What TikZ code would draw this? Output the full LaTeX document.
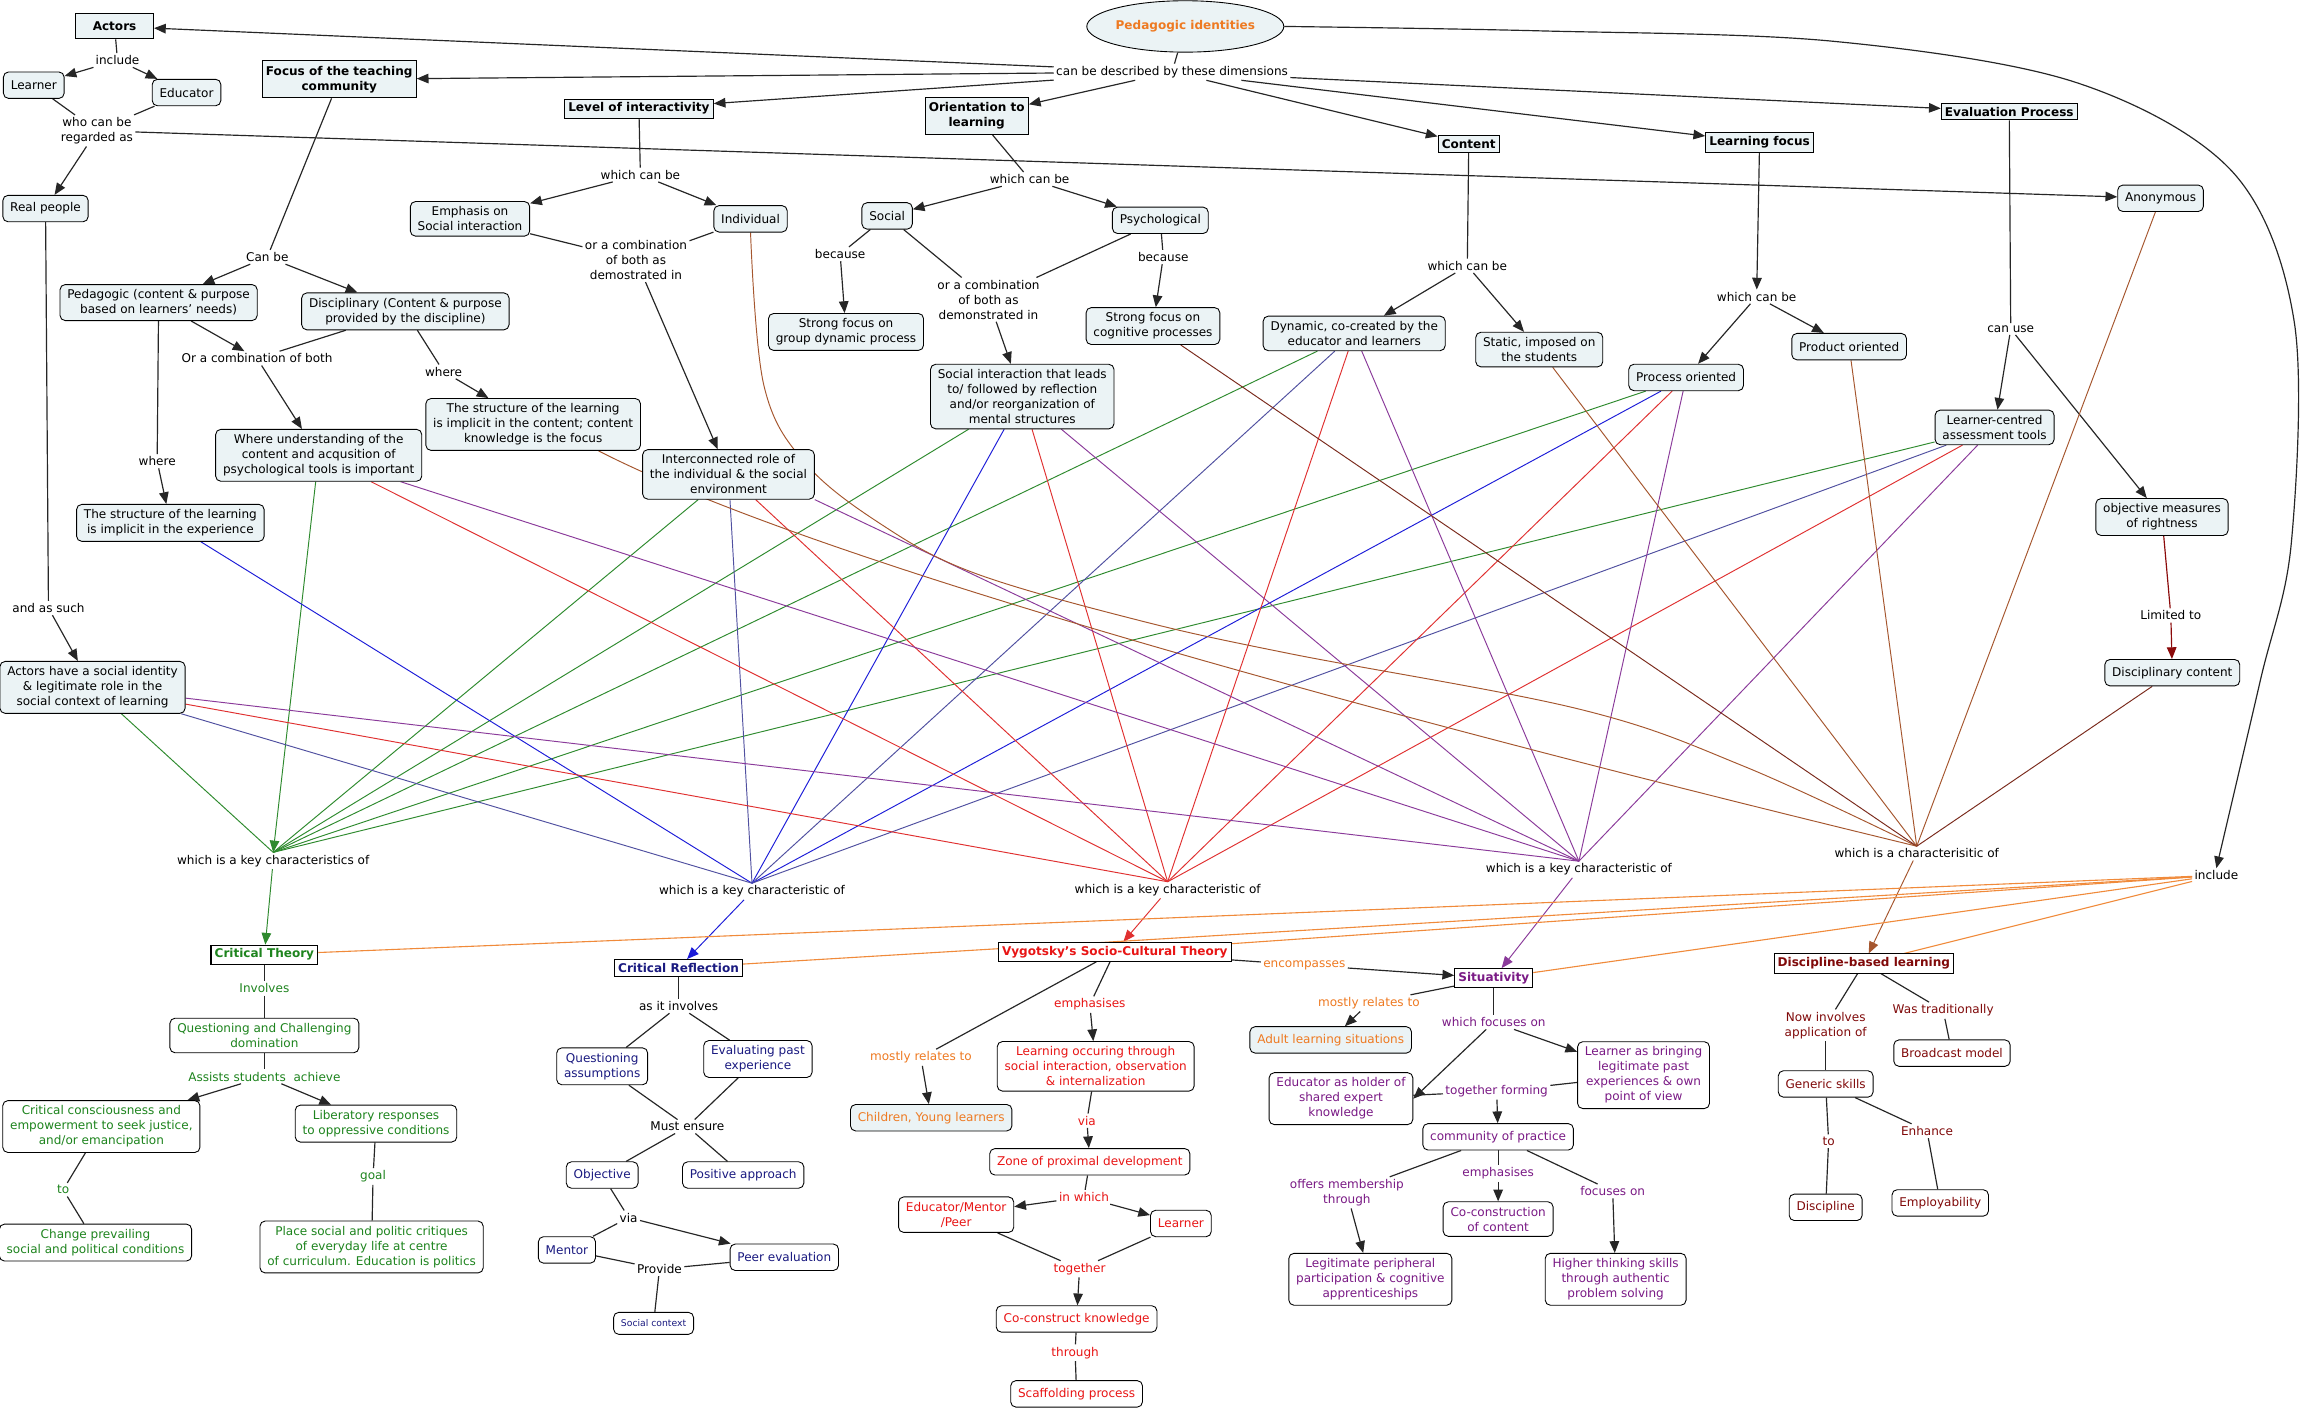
\documentclass[tikz,border=0pt]{standalone}
\usepackage{fontspec}
\setmainfont{DejaVu Sans}
\usetikzlibrary{arrows.meta,shapes.geometric,backgrounds}
\pgfdeclarelayer{bgzero}
\pgfsetlayers{bgzero,background,main}
\definecolor{nfill}{HTML}{EBF3F5}
\definecolor{tgrn}{HTML}{1E841E}
\definecolor{tnav}{HTML}{1A1A80}
\definecolor{tred}{HTML}{E81515}
\definecolor{tpur}{HTML}{7A1A85}
\definecolor{tora}{HTML}{EE7A22}
\definecolor{tdrd}{HTML}{800A0A}
\definecolor{lgrn}{HTML}{2E8A2E}
\definecolor{lblu}{HTML}{1C1CD8}
\definecolor{lsla}{HTML}{5050A0}
\definecolor{lred}{HTML}{E03030}
\definecolor{lpur}{HTML}{8A3A9A}
\definecolor{lbrn}{HTML}{A5562E}
\definecolor{ldbr}{HTML}{7A2A1C}
\definecolor{lora}{HTML}{F08A3A}
\definecolor{ldred}{HTML}{8B0A0A}
\newcommand{\myfs}{\fontsize{8.2}{10.2}\selectfont}
\begin{document}
\begin{tikzpicture}[x=1pt,y=-1pt,
  every node/.style={font=\myfs, align=center},
  lk/.style={inner sep=1.5pt},
  cb/.style={draw, rounded corners=3.5pt, fill=nfill, inner xsep=5pt, inner ysep=3.5pt, minimum height=18pt, line width=0.6pt},
  wb/.style={cb, fill=white},
  tb/.style={draw, fill=nfill, font=\myfs\bfseries, inner xsep=2.5pt, inner ysep=2.5pt, line width=0.7pt},
  bt/.style={tb, fill=white},
  ln/.style={line width=0.8pt, draw=black!85},
  tip/.style={-{Triangle[length=8pt,width=6.5pt]}},
  ar/.style={ln, tip},
  cg/.style={line width=0.65pt, draw=lgrn},
  cbl/.style={line width=0.65pt, draw=lblu},
  csl/.style={line width=0.65pt, draw=lsla},
  crd/.style={line width=0.65pt, draw=lred},
  cpu/.style={line width=0.65pt, draw=lpur},
  cbr/.style={line width=0.65pt, draw=lbrn},
  cdb/.style={line width=0.65pt, draw=ldbr},
  cor/.style={line width=0.75pt, draw=lora}
]
\begin{pgfonlayer}{bgzero}
\fill[white] (0,0) rectangle (1568,961);
\end{pgfonlayer}
\useasboundingbox (0,0) rectangle (1568,961);

% ---------- top part ----------
\node[ellipse, draw, fill=nfill, minimum width=109pt, minimum height=35pt, inner sep=0pt, font=\myfs\bfseries, text=tora, line width=0.6pt] (PI) at (807,18) {Pedagogic identities};
\node[lk] (desc) at (798,49) {can be described by these dimensions};
\node[tb, minimum width=53pt, minimum height=17pt] (actors) at (78,18) {Actors};
\node[lk] (inc1) at (80,41) {include};
\node[cb] (learner1) at (23,58) {Learner};
\node[cb] (educator1) at (127,63) {Educator};
\node[lk] (whocan) at (66,89) {who can be\\regarded as};
\node[tb, inner ysep=3.5pt] (focus) at (231,54) {Focus of the teaching\\community};
\node[tb] (loi) at (435,74) {Level of interactivity};
\node[tb, inner ysep=3.5pt] (orient) at (665,79) {Orientation to\\learning};
\node[tb] (content) at (1000,98) {Content};
\node[tb] (lfocus) at (1198,97) {Learning focus};
\node[tb] (evalp) at (1368,76) {Evaluation Process};
\node[cb] (anon) at (1471,135) {Anonymous};
\node[cb] (realp) at (31,142) {Real people};
\node[lk] (wcb1) at (436,119) {which can be};
\node[cb] (emph) at (320,149) {Emphasis on\\Social interaction};
\node[cb] (indiv) at (511,149) {Individual};
\node[lk] (comb1) at (433,177) {or a combination\\of both as\\demostrated in};
\node[lk] (canbe) at (182,175) {Can be};
\node[cb] (pedag) at (108,206) {Pedagogic (content \& purpose\\based on learners' needs)};
\node[cb] (discip) at (276,212) {Disciplinary (Content \& purpose\\provided by the discipline)};
\node[lk] (comb2) at (175,244) {Or a combination of both};
\node[lk] (where1) at (302,253) {where};
\node[cb] (structc) at (363,289) {The structure of the learning\\is implicit in the content; content\\knowledge is the focus};
\node[cb] (whereu) at (217,310) {Where understanding of the\\content and acqusition of\\psychological tools is important};
\node[lk] (where2) at (107,314) {where};
\node[cb] (structe) at (116,356) {The structure of the learning\\is implicit in the experience};
\node[cb] (interc) at (496,323) {Interconnected role of\\the individual \& the social\\environment};
\node[lk] (wcb2) at (701,122) {which can be};
\node[cb] (social) at (604,147) {Social};
\node[cb] (psych) at (790,150) {Psychological};
\node[lk] (because1) at (572,173) {because};
\node[lk] (comb3) at (673,204) {or a combination\\of both as\\demonstrated in};
\node[lk] (because2) at (792,175) {because};
\node[cb] (sfgroup) at (576,226) {Strong focus on\\group dynamic process};
\node[cb] (sfcog) at (785,222) {Strong focus on\\cognitive processes};
\node[cb] (socint) at (696,270) {Social interaction that leads\\to/ followed by reflection\\and/or reorganization of\\mental structures};
\node[lk] (wcb3) at (999,181) {which can be};
\node[cb] (dynamic) at (922,227) {Dynamic, co-created by the\\educator and learners};
\node[cb] (static) at (1048,238) {Static, imposed on\\the students};
\node[lk] (wcb4) at (1196,202) {which can be};
\node[cb] (process) at (1148,257) {Process oriented};
\node[cb] (product) at (1259,236) {Product oriented};
\node[lk] (canuse) at (1369,224) {can use};
\node[cb] (lcat) at (1358,291) {Learner-centred\\assessment tools};
\node[cb] (objm) at (1472,352) {objective measures\\of rightness};
\node[lk] (limto) at (1478,419) {Limited to};
\node[cb] (discont) at (1479,458) {Disciplinary content};
\node[lk] (assuch) at (33,414) {and as such};
\node[cb] (actsoc) at (63,468) {Actors have a social identity\\\& legitimate role in the\\social context of learning};

% ---------- hubs ----------
\node[lk] (H1) at (186,586) {which is a key characteristics of};
\node[lk] (H2) at (512,607) {which is a key characteristic of};
\node[lk] (H3) at (795,606) {which is a key characteristic of};
\node[lk] (H4) at (1075,592) {which is a key characteristic of};
\node[lk] (H5) at (1305,581) {which is a characterisitic of};
\node[lk] (inc2) at (1509,596) {include};

% ---------- theories ----------
\node[bt, text=tgrn] (CT) at (180,650) {Critical Theory};
\node[bt, text=tnav] (CR) at (462,659) {Critical Reflection};
\node[bt, text=tred] (VY) at (759,648) {Vygotsky's Socio-Cultural Theory};
\node[bt, text=tpur] (SIT) at (1017,666) {Situativity};
\node[bt, text=tdrd] (DBL) at (1269,656) {Discipline-based learning};

% Critical theory subtree
\node[lk, text=tgrn] (involves) at (180,673) {Involves};
\node[wb, text=tgrn] (qcd) at (180,705) {Questioning and Challenging\\domination};
\node[lk, text=tgrn] (assists) at (180,733) {Assists students~ achieve};
\node[wb, text=tgrn] (ccons) at (69,767) {Critical consciousness and\\empowerment to seek justice,\\and/or emancipation};
\node[wb, text=tgrn] (libr) at (256,765) {Liberatory responses\\to oppressive conditions};
\node[lk, text=tgrn] (to1) at (43,810) {to};
\node[lk, text=tgrn] (goal) at (254,801) {goal};
\node[wb, text=tgrn] (change) at (65,846) {Change prevailing\\social and political conditions};
\node[wb, text=tgrn] (place) at (253,849) {Place social and politic critiques\\of everyday life at centre\\of curriculum. Education is politics};

% Critical reflection subtree
\node[lk] (asinv) at (462,685) {as it involves};
\node[wb, text=tnav] (qa) at (410,726) {Questioning\\assumptions};
\node[wb, text=tnav] (epe) at (516,721) {Evaluating past\\experience};
\node[lk] (must) at (468,767) {Must ensure};
\node[wb, text=tnav] (objective) at (410,800) {Objective};
\node[wb, text=tnav] (positive) at (506,800) {Positive approach};
\node[lk] (via1) at (428,829) {via};
\node[wb, text=tnav] (mentor) at (386,851) {Mentor};
\node[wb, text=tnav] (peer) at (534,856) {Peer evaluation};
\node[lk] (provide) at (449,864) {Provide};
\node[wb, text=tnav, font=\fontsize{6.3}{7.5}\selectfont, minimum height=15pt] (socctx) at (445,901) {Social context};

% Vygotsky subtree
\node[lk, text=tred] (emph2) at (742,684) {emphasises};
\node[wb, text=tred] (locc) at (746,726) {Learning occuring through\\social interaction, observation\\\& internalization};
\node[lk, text=tora] (mrel1) at (627,720) {mostly relates to};
\node[cb, text=tora] (children) at (634,761) {Children, Young learners};
\node[lk, text=tred] (via2) at (740,763) {via};
\node[wb, text=tred] (zpd) at (742,791) {Zone of proximal development};
\node[lk, text=tred] (inwhich) at (738,815) {in which};
\node[wb, text=tred] (edmp) at (651,827) {Educator/Mentor\\/Peer};
\node[wb, text=tred] (learner2) at (804,833) {Learner};
\node[lk, text=tred] (together) at (735,864) {together};
\node[wb, text=tred] (cok) at (733,898) {Co-construct knowledge};
\node[lk, text=tred] (through) at (732,921) {through};
\node[wb, text=tred] (scaff) at (733,949) {Scaffolding process};
\node[lk, text=tora] (encomp) at (888,657) {encompasses};

% Situativity subtree
\node[lk, text=tora] (mrel2) at (932,683) {mostly relates to};
\node[cb, text=tora] (adult) at (906,708) {Adult learning situations};
\node[lk, text=tpur] (wfo) at (1017,696) {which focuses on};
\node[wb, text=tpur] (edhold) at (913,748) {Educator as holder of\\shared expert\\knowledge};
\node[wb, text=tpur] (lbring) at (1119,732) {Learner as bringing\\legitimate past\\experiences \& own\\point of view};
\node[lk, text=tpur] (tform) at (1019,743) {together forming};
\node[wb, text=tpur] (cop) at (1020,774) {community of practice};
\node[lk, text=tpur] (offers) at (917,812) {offers membership\\through};
\node[lk, text=tpur] (emph3) at (1020,799) {emphasises};
\node[lk, text=tpur] (focon) at (1098,811) {focuses on};
\node[wb, text=tpur] (cocon) at (1020,830) {Co-construction\\of content};
\node[wb, text=tpur] (lpp) at (933,871) {Legitimate peripheral\\participation \& cognitive\\apprenticeships};
\node[wb, text=tpur] (hts) at (1100,871) {Higher thinking skills\\through authentic\\problem solving};

% Discipline-based subtree
\node[lk, text=tdrd] (nowinv) at (1243,698) {Now involves\\application of};
\node[lk, text=tdrd] (wastrad) at (1323,688) {Was traditionally};
\node[wb, text=tdrd] (broad) at (1329,717) {Broadcast model};
\node[wb, text=tdrd] (generic) at (1243,738) {Generic skills};
\node[lk, text=tdrd] (to2) at (1245,777) {to};
\node[lk, text=tdrd] (enhance) at (1312,770) {Enhance};
\node[wb, text=tdrd] (discipline) at (1243,822) {Discipline};
\node[wb, text=tdrd] (employ) at (1321,819) {Employability};

% ---------- connectors ----------
\begin{scope}[on background layer]
\draw[ln] (PI) -- (desc);
\foreach \t in {actors,focus,loi,orient,content,lfocus,evalp} \draw[ar] (desc) -- (\t);
\draw[ar] plot[smooth,tension=0.55] coordinates {(PI.east) (1048,21) (1247,28) (1413,56) (1520,117) (1562,219) (1560,370) (1539,463) (inc2.north)};
\draw[ln] (actors) -- (inc1);
\draw[ar] (inc1) -- (learner1);
\draw[ar] (inc1) -- (educator1);
\draw[ln] (learner1) -- (whocan);
\draw[ln] (educator1) -- (whocan);
\draw[ar] (whocan) -- (realp);
\draw[ar] (whocan) -- (anon);
\draw[ln] (realp) -- (assuch);
\draw[ar] (assuch) -- (actsoc);
\draw[ln] (focus) -- (canbe);
\draw[ar] (canbe) -- (pedag);
\draw[ar] (canbe) -- (discip);
\draw[ar] (pedag) -- (comb2);
\draw[ln] (discip) -- (comb2);
\draw[ar] (comb2) -- (whereu);
\draw[ln] (pedag) -- (where2);
\draw[ar] (where2) -- (structe);
\draw[ln] (discip) -- (where1);
\draw[ar] (where1) -- (structc);
\draw[ln] (loi) -- (wcb1);
\draw[ar] (wcb1) -- (emph);
\draw[ar] (wcb1) -- (indiv);
\draw[ln] (emph) -- (comb1);
\draw[ln] (indiv) -- (comb1);
\draw[ar] (comb1) -- (interc);
\draw[ln] (orient) -- (wcb2);
\draw[ar] (wcb2) -- (social);
\draw[ar] (wcb2) -- (psych);
\draw[ln] (social) -- (because1);
\draw[ar] (because1) -- (sfgroup);
\draw[ln] (social) -- (comb3);
\draw[ln] (psych) -- (comb3);
\draw[ar] (comb3) -- (socint);
\draw[ln] (psych) -- (because2);
\draw[ar] (because2) -- (sfcog);
\draw[ln] (content) -- (wcb3);
\draw[ar] (wcb3) -- (dynamic);
\draw[ar] (wcb3) -- (static);
\draw[ar] (lfocus) -- (wcb4);
\draw[ar] (wcb4) -- (process);
\draw[ar] (wcb4) -- (product);
\draw[ln] (evalp) -- (canuse);
\draw[ar] (canuse) -- (lcat);
\draw[ar] (canuse) -- (objm);
\draw[ln, draw=ldred] (objm) -- (limto);
\draw[ar, draw=ldred] (limto) -- (discont);

% green -> Critical Theory
\foreach \s in {actsoc,interc,socint,dynamic,process,lcat} \draw[cg] (\s) -- (H1.north);
\draw[cg, tip] (whereu) -- (H1.north);
\draw[cg, tip] (H1) -- (CT);
% blue -> Critical Reflection
\draw[cbl] (structe) -- (H2.north);
\draw[csl] (interc) -- (H2.north);
\draw[cbl] (socint) -- (H2.north);
\draw[csl] (dynamic) -- (H2.north);
\draw[cbl] (process) -- (H2.north);
\draw[csl] (lcat) -- (H2.north);
\draw[csl] (actsoc) -- (H2.north);
\draw[cbl, tip] (H2) -- (CR);
% red -> Vygotsky
\foreach \s in {whereu,interc,socint,dynamic,process,lcat,actsoc} \draw[crd] (\s) -- (H3.north);
\draw[crd, tip] (H3) -- (VY);
% purple -> Situativity
\foreach \s in {whereu,socint,dynamic,process,lcat,actsoc} \draw[cpu] (\s) -- (H4.north);
\draw[cpu] (interc.south east) -- (H4.north);
\draw[cpu, tip] (H4) -- (SIT);
% brown -> Discipline-based learning
\draw[cbr] plot[smooth,tension=0.6] coordinates {(indiv.south) (520,262) (548,315) (600,357) (663,390) (774,422) (878,445) (1076,483) (1188,522) (H5.north)};
\draw[cbr] (structc.-22) .. controls (560,385) and (950,490) .. (H5.north);
\draw[cdb] (sfcog) -- (H5.north);
\draw[cbr] (static) -- (H5.north);
\draw[cbr] (product) -- (H5.north);
\draw[cbr] (anon) -- (H5.north);
\draw[cdb] (discont) -- (H5.north);
\draw[cbr, tip] (H5) -- (DBL);
% orange include
\foreach \t in {CT,CR,VY,SIT,DBL} \draw[cor] (inc2) -- (\t);

% Critical theory subtree
\draw[ln] (CT) -- (involves);
\draw[ln] (involves) -- (qcd);
\draw[ln] (qcd) -- (assists);
\draw[ar] (assists) -- (ccons);
\draw[ar] (assists) -- (libr);
\draw[ln] (ccons) -- (to1);
\draw[ln] (to1) -- (change);
\draw[ln] (libr) -- (goal);
\draw[ln] (goal) -- (place);
% Critical reflection subtree
\draw[ln] (CR) -- (asinv);
\draw[ln] (asinv) -- (qa);
\draw[ln] (asinv) -- (epe);
\draw[ln] (qa) -- (must);
\draw[ln] (epe) -- (must);
\draw[ln] (must) -- (objective);
\draw[ln] (must) -- (positive);
\draw[ln] (objective) -- (via1);
\draw[ar] (via1) -- (peer);
\draw[ln] (via1) -- (mentor);
\draw[ln] (mentor) -- (provide);
\draw[ln] (peer) -- (provide);
\draw[ln] (provide) -- (socctx);
% Vygotsky subtree
\draw[ln] (VY) -- (emph2);
\draw[ar] (emph2) -- (locc);
\draw[ln] (VY) -- (mrel1);
\draw[ar] (mrel1) -- (children);
\draw[ln] (locc) -- (via2);
\draw[ar] (via2) -- (zpd);
\draw[ln] (zpd) -- (inwhich);
\draw[ar] (inwhich) -- (edmp);
\draw[ar] (inwhich) -- (learner2);
\draw[ln] (edmp) -- (together);
\draw[ln] (learner2) -- (together);
\draw[ar] (together) -- (cok);
\draw[ln] (cok) -- (through);
\draw[ln] (through) -- (scaff);
\draw[ln] (VY) -- (encomp);
\draw[ar] (encomp) -- (SIT);
% Situativity subtree
\draw[ln] (SIT) -- (mrel2);
\draw[ar] (mrel2) -- (adult);
\draw[ln] (SIT) -- (wfo);
\draw[ar] (wfo) -- (edhold.east);
\draw[ar] (wfo) -- (lbring);
\draw[ln] (edhold) -- (tform);
\draw[ln] (lbring) -- (tform);
\draw[ar] (tform) -- (cop);
\draw[ln] (cop) -- (offers);
\draw[ar] (offers) -- (lpp);
\draw[ln] (cop) -- (emph3);
\draw[ar] (emph3) -- (cocon);
\draw[ln] (cop) -- (focon);
\draw[ar] (focon) -- (hts);
% Discipline-based subtree
\draw[ln] (DBL) -- (nowinv);
\draw[ln] (nowinv) -- (generic);
\draw[ln] (DBL) -- (wastrad);
\draw[ln] (wastrad) -- (broad);
\draw[ln] (generic) -- (to2);
\draw[ln] (to2) -- (discipline);
\draw[ln] (generic) -- (enhance);
\draw[ln] (enhance) -- (employ);
\end{scope}
\end{tikzpicture}
\end{document}
